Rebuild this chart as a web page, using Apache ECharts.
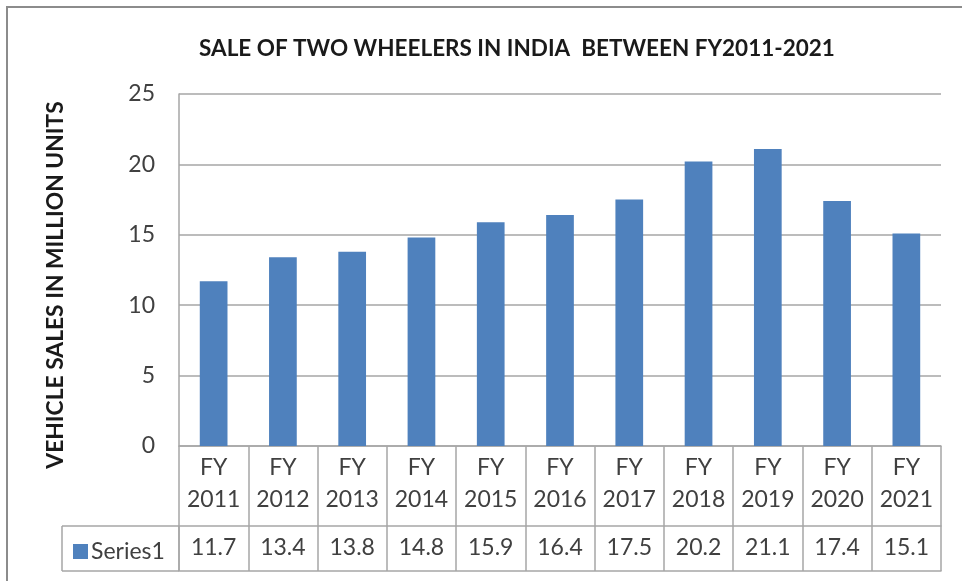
<!DOCTYPE html>
<html>
<head>
<meta charset="utf-8">
<script src="https://cdn.jsdelivr.net/npm/echarts@6/dist/echarts.min.js"></script>
<style>html,body{margin:0;padding:0;background:#fff}#c{width:962px;height:581px}</style>
</head>
<body>
<div id="c"></div>
<script>
const categories = ['FY\n2011','FY\n2012','FY\n2013','FY\n2014','FY\n2015','FY\n2016','FY\n2017','FY\n2018','FY\n2019','FY\n2020','FY\n2021'];
const seriesName = 'Series1';
const values = [11.7, 13.4, 13.8, 14.8, 15.9, 16.4, 17.5, 20.2, 21.1, 17.4, 15.1];
const yTicks = [0, 5, 10, 15, 20, 25];
const titleText = 'SALE OF TWO WHEELERS IN INDIA  BETWEEN FY2011-2021';
const yName = 'VEHICLE SALES IN MILLION UNITS';

const FONT = 'Lato';
const TXT = '#404040';
const LINE = '#a6a6a6';
const G = {left: 179, right: 21, top: 94, bottom: 135};
const W = 962, H = 581;
const rowY1 = H - G.bottom + 80;   // between category row and series row
const rowY2 = rowY1 + 45;          // bottom of series row
const tableLeft = 62;

const chart = echarts.init(document.getElementById('c'));
chart.setOption({
  animation: false,
  textStyle: {fontFamily: FONT},
  title: {
    text: titleText, left: 194, top: 32,
    textStyle: {fontFamily: FONT, fontWeight: 'bold', fontSize: 22.5, color: '#1a1a1a'}
  },
  legend: {
    data: [seriesName], left: 68, top: rowY1 + 9,
    icon: 'rect', itemWidth: 15, itemHeight: 15, itemGap: 4,
    textStyle: {fontFamily: FONT, fontSize: 23, color: TXT, padding: [0,0,0,-2]}
  },
  grid: {left: G.left, right: G.right, top: G.top, bottom: G.bottom, containLabel: false},
  xAxis: [
    {
      type: 'category', data: categories, position: 'bottom',
      axisLine: {show: true, lineStyle: {color: LINE, width: 1.5}},
      axisTick: {show: true, length: 80, lineStyle: {color: LINE, width: 1.5}},
      axisLabel: {interval: 0, margin: 6, fontSize: 23, lineHeight: 32, color: TXT, fontFamily: FONT}
    },
    {
      type: 'category', data: values.map(v => v.toFixed(1)), position: 'bottom', offset: 80,
      axisLine: {show: true, lineStyle: {color: LINE, width: 1.5}},
      axisTick: {show: true, length: 45, lineStyle: {color: LINE, width: 1.5}},
      axisLabel: {interval: 0, margin: 10, fontSize: 23, color: TXT, fontFamily: FONT}
    },
    {
      type: 'category', data: categories, position: 'bottom', offset: 125,
      axisLine: {show: true, lineStyle: {color: LINE, width: 1.5}},
      axisTick: {show: false}, axisLabel: {show: false}
    }
  ],
  yAxis: {
    type: 'value', min: 0, max: 25, interval: 5,
    name: yName, nameLocation: 'middle', nameRotate: 90, nameGap: 112,
    nameTextStyle: {fontFamily: FONT, fontWeight: 'bold', fontSize: 22.8, color: '#1a1a1a', padding: [0, 30, 0, 0]},
    axisLine: {show: true, lineStyle: {color: LINE, width: 1.5}},
    axisTick: {show: false},
    axisLabel: {margin: 24, fontSize: 23, color: TXT, fontFamily: FONT,
      formatter: v => yTicks.includes(v) ? String(v) : ''},
    splitLine: {show: true, lineStyle: {color: LINE, width: 1.5}}
  },
  series: [{
    name: seriesName, type: 'bar', data: values, xAxisIndex: 0,
    barWidth: '40%', itemStyle: {color: '#4f81bd'}
  }],
  graphic: [
    {type: 'rect', shape: {x: 7, y: 7, width: 1000, height: 600}, style: {fill: 'none', stroke: '#8c8c8c', lineWidth: 2}, silent: true},
    {type: 'line', shape: {x1: tableLeft, y1: rowY1, x2: G.left, y2: rowY1}, style: {stroke: LINE, lineWidth: 1.5}},
    {type: 'line', shape: {x1: tableLeft, y1: rowY2, x2: G.left, y2: rowY2}, style: {stroke: LINE, lineWidth: 1.5}},
    {type: 'line', shape: {x1: tableLeft, y1: rowY1, x2: tableLeft, y2: rowY2}, style: {stroke: LINE, lineWidth: 1.5}},
    {type: 'line', shape: {x1: G.left, y1: rowY1, x2: G.left, y2: rowY2}, style: {stroke: LINE, lineWidth: 1.5}}
  ]
});
</script>
</body>
</html>
